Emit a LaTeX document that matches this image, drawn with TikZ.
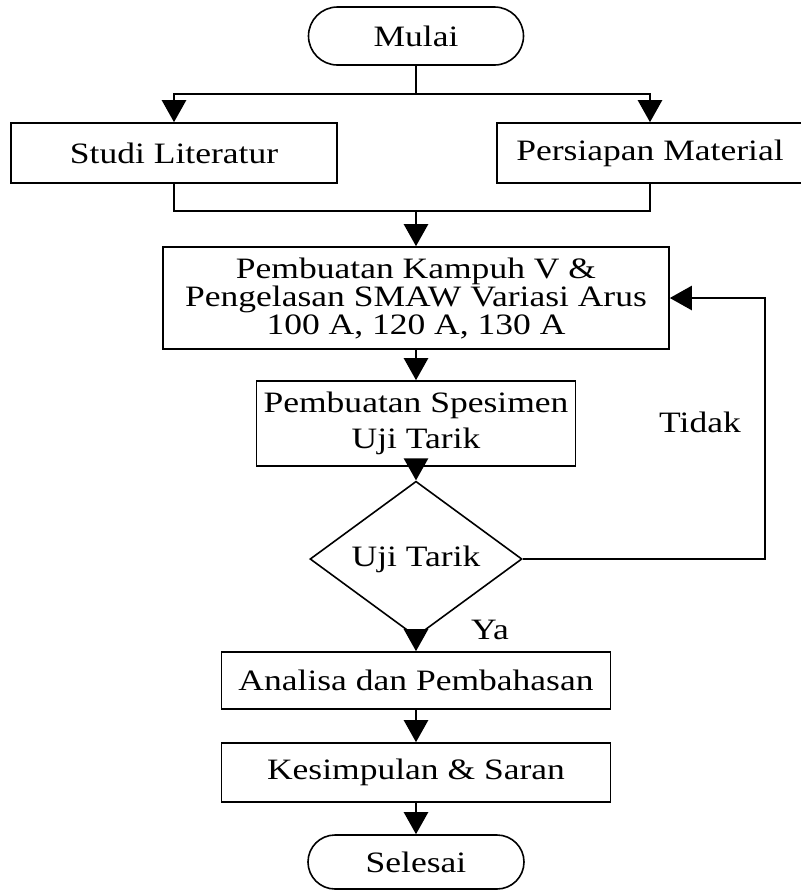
\documentclass[tikz,border=0pt]{standalone}
\usepackage{fontspec}
\setmainfont{Liberation Serif}[FakeStretch=1.2]
\usetikzlibrary{shapes.geometric,shapes.misc,arrows.meta}
\begin{document}
\begin{tikzpicture}[x=0.5pt,y=-0.5pt,
  txt/.style={font=\fontsize{14.8}{14}\selectfont},
  box/.style={draw,line width=0.8pt,inner sep=0pt,align=center,txt},
  term/.style={box,rounded rectangle},
  dec/.style={box,diamond},
  arr/.style={line width=1.2pt,-{Triangle[length=11pt,width=12pt]}},
  ln/.style={line width=1.2pt}]
\useasboundingbox (0,0) rectangle (801,890);
\node[term,minimum width=107.5pt,minimum height=29pt] (mulai) at (416,36) {Mulai};
\node[box,minimum width=163pt,minimum height=30pt] (studi) at (174,153) {Studi Literatur};
\node[box,minimum width=153pt,minimum height=30pt] (persiapan) at (650,153) {Persiapan Material};
\node[box,minimum width=253pt,minimum height=51pt] (kampuh) at (416,298) {Pembuatan Kampuh V \&\\Pengelasan SMAW Variasi Arus\\100 A, 120 A, 130 A};
\node[box,minimum width=159.5pt,minimum height=42.5pt] (spesimen) at (416,423.5) {Pembuatan Spesimen\\[4pt]Uji Tarik};
\node[dec,minimum width=106pt,minimum height=56pt] (uji) at (416,559) {Uji Tarik};
\node[box,minimum width=194.5pt,minimum height=28.5pt] (analisa) at (416,680.5) {Analisa dan Pembahasan};
\node[box,minimum width=194.5pt,minimum height=29.5pt] (kesimpulan) at (416,772.5) {Kesimpulan \& Saran};
\node[term,minimum width=108pt,minimum height=27pt] (selesai) at (416,862) {Selesai};
\node[txt] (tidak) at (700,422) {Tidak};
\node[txt] (ya) at (490,630) {Ya};
\coordinate (sp) at (416,94);
\coordinate (jn) at (416,211);
\coordinate (fb) at (765,559);
\draw[ln] (mulai.south) -- (sp);
\draw[arr] (sp) -| (studi.north);
\draw[arr] (sp) -| (persiapan.north);
\draw[ln] (studi.south) |- (jn);
\draw[ln] (persiapan.south) |- (jn);
\draw[arr] (jn) -- (kampuh.north);
\draw[arr] (kampuh.south) -- (spesimen.north);
\draw[arr] (spesimen.south) -- (uji.north);
\draw[arr] (uji.south) -- (analisa.north);
\draw[arr] (analisa.south) -- (kesimpulan.north);
\draw[arr] (kesimpulan.south) -- (selesai.north);
\draw[arr] (uji.east) -- (fb) |- (kampuh.east);
\end{tikzpicture}
\end{document}
